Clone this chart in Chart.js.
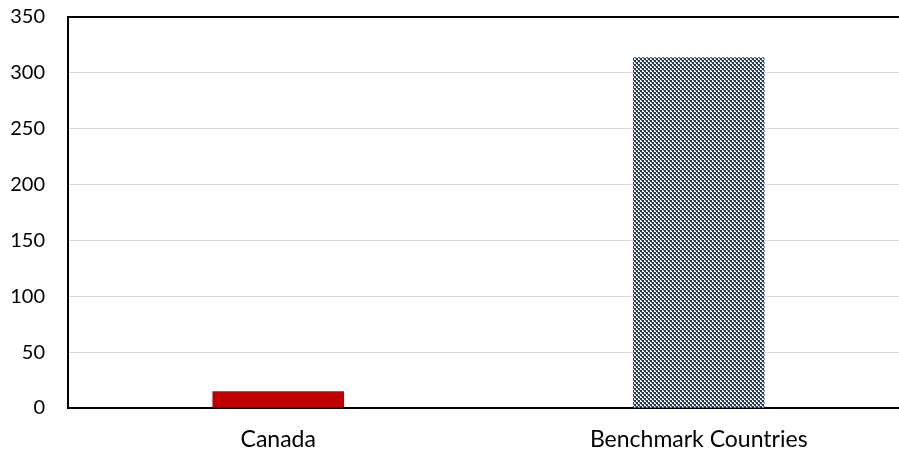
<!DOCTYPE html>
<html>
<head>
<meta charset="utf-8">
<script src="https://cdn.jsdelivr.net/npm/chart.js@4"></script>
<style>
html,body{margin:0;padding:0;background:#fff;overflow:hidden;}
#wrap{width:920px;height:453px;position:relative;overflow:hidden;}
#c{position:absolute;left:0;top:-18px;}
</style>
</head>
<body>
<div id="wrap"><canvas id="c" width="920" height="471"></canvas></div>
<script>
const categories = ["Canada", "Benchmark Countries"];
const values = [15, 314];
const yTicks = [0, 50, 100, 150, 200, 250, 300, 350];

function makePattern(){
  const p = document.createElement('canvas');
  p.width = 4; p.height = 4;
  const g = p.getContext('2d');
  g.fillStyle = '#ffffff';
  g.fillRect(0,0,4,4);
  g.fillStyle = '#203864';
  g.fillRect(0,0,2,2);
  g.fillRect(2,2,2,2);
  g.fillStyle = '#6f7f9f';
  g.fillRect(1,2,1,1);
  g.fillRect(3,0,1,1);
  return document.getElementById('c').getContext('2d').createPattern(p,'repeat');
}

const topBorder = {
  id:'topBorder',
  afterDraw(chart){
    const {ctx, chartArea:a} = chart;
    ctx.save();
    ctx.strokeStyle = '#000';
    ctx.lineWidth = 2;
    ctx.beginPath();
    ctx.moveTo(a.left-1, a.top);
    ctx.lineTo(a.right, a.top);
    ctx.stroke();
    ctx.restore();
  }
};

const yFont = {family: "Lato, 'Open Sans', sans-serif", size: 20};
const xFont = {family: "Lato, 'Open Sans', sans-serif", size: 23};

new Chart(document.getElementById('c'), {
  type: 'bar',
  data: {
    labels: categories,
    datasets: [{
      data: values,
      backgroundColor: ['#c00000', makePattern()],
      borderWidth: 0,
      categoryPercentage: 1,
      barPercentage: 0.313
    }]
  },
  options: {
    responsive: false,
    animation: false,
    layout: {padding: {left: 0, right: 11, top: 0, bottom: 0}},
    plugins: {legend: {display: false}, tooltip: {enabled: false}},
    scales: {
      x: {
        afterFit(s){ s.height = 45; },
        grid: {display: false, drawTicks: false},
        border: {display: true, color: '#000', width: 2},
        ticks: {color: '#000', font: xFont, padding: 18}
      },
      y: {
        min: 0, max: 350,
        afterBuildTicks(s){ s.ticks = yTicks.map(v => ({value: v})); },
        afterFit(s){ s.width = 68; },
        grid: {color: '#d9d9d9', lineWidth: 1, drawTicks: false},
        border: {display: true, color: '#000', width: 2},
        ticks: {color: '#000', font: yFont, padding: 23}
      }
    }
  },
  plugins: [topBorder]
});
</script>
</body>
</html>
